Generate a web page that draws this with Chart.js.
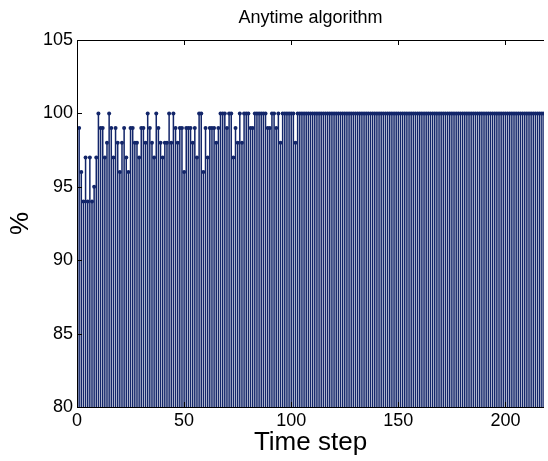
<!DOCTYPE html>
<html lang="en">
<head>
  <meta charset="UTF-8" />
  <title>Anytime algorithm</title>
  <script src="https://cdn.jsdelivr.net/npm/chart.js"></script>
  <style>
    body {
      margin: 0;
      background: white;
    }
    .chart-box {
      width: 548px;
      height: 461px;
    }
  </style>
</head>
<body>
  <div class="chart-box">
    <canvas id="stemChart" width="548" height="461"></canvas>
  </div>

  <script>
    // accuracy (%) per time step
    const steps = [];
    for (let i = 1; i <= 218; i++) steps.push(i);

    const percent = [
      99, 96, 94, 97, 94, 97, 94, 95, 97, 100,
      99, 99, 97, 98, 100, 99, 97, 99, 98, 96,
      98, 99, 97, 96, 99, 99, 98, 98, 97, 99,
      99, 98, 100, 99, 98, 97, 100, 99, 98, 97,
      98, 98, 100, 98, 100, 99, 98, 99, 99, 96,
      99, 99, 99, 98, 99, 97, 100, 100, 96, 99,
      97, 99, 99, 99, 98, 99, 100, 100, 100, 99,
      100, 100, 97, 99, 98, 100, 98, 100, 100, 100,
      99, 99, 100, 100, 100, 100, 100, 100, 99, 99,
      100, 100, 99, 100, 98, 100, 100, 100, 100, 100,
      100, 98, 100, 100, 100, 100, 100, 100, 100, 100,
      100, 100, 100, 100, 100, 100, 100, 100, 100, 100,
      100, 100, 100, 100, 100, 100, 100, 100, 100, 100,
      100, 100, 100, 100, 100, 100, 100, 100, 100, 100,
      100, 100, 100, 100, 100, 100, 100, 100, 100, 100,
      100, 100, 100, 100, 100, 100, 100, 100, 100, 100,
      100, 100, 100, 100, 100, 100, 100, 100, 100, 100,
      100, 100, 100, 100, 100, 100, 100, 100, 100, 100,
      100, 100, 100, 100, 100, 100, 100, 100, 100, 100,
      100, 100, 100, 100, 100, 100, 100, 100, 100, 100,
      100, 100, 100, 100, 100, 100, 100, 100, 100, 100,
      100, 100, 100, 100, 100, 100, 100, 100
    ];

    const xTicks = [0, 50, 100, 150, 200];
    const yTicks = [80, 85, 90, 95, 100, 105];

    const navy = '#13266a';

    // MATLAB style box: ticks pointing inward, top + left + bottom lines
    const boxAxes = {
      id: 'boxAxes',
      afterDraw(chart) {
        const c = chart.ctx;
        const a = chart.chartArea;
        const x = chart.scales.x;
        const y = chart.scales.y;
        c.save();
        c.strokeStyle = '#000';
        c.lineWidth = 1;
        c.beginPath();
        c.moveTo(a.left + 0.5, a.top);
        c.lineTo(a.left + 0.5, a.bottom);
        c.moveTo(a.left, a.bottom + 0.5);
        c.lineTo(a.right, a.bottom + 0.5);
        c.moveTo(a.left, a.top + 0.5);
        c.lineTo(a.right, a.top + 0.5);
        xTicks.forEach(v => {
          const px = Math.round(x.getPixelForValue(v)) + 0.5;
          c.moveTo(px, a.bottom);
          c.lineTo(px, a.bottom - 5);
          c.moveTo(px, a.top);
          c.lineTo(px, a.top + 5);
        });
        yTicks.forEach(v => {
          const py = Math.round(y.getPixelForValue(v)) + 0.5;
          c.moveTo(a.left, py);
          c.lineTo(a.left + 5, py);
        });
        c.stroke();
        c.restore();
      }
    };

    const ctx = document.getElementById('stemChart').getContext('2d');
    new Chart(ctx, {
      type: 'bar',
      data: {
        datasets: [
          {
            type: 'bar',
            data: steps.map((s, i) => ({ x: s, y: [80, percent[i]] })),
            backgroundColor: navy,
            barThickness: 0.85,
            borderWidth: 0
          },
          {
            type: 'line',
            data: steps.map((s, i) => ({ x: s, y: percent[i] })),
            showLine: false,
            pointRadius: 2,
            pointBorderWidth: 0,
            pointBackgroundColor: navy
          }
        ]
      },
      options: {
        responsive: false,
        animation: false,
        devicePixelRatio: 1,
        layout: { padding: 0 },
        plugins: {
          legend: { display: false },
          tooltip: { enabled: false },
          title: {
            display: true,
            text: 'Anytime algorithm',
            fullSize: false,
            color: '#000',
            font: { family: 'Liberation Sans', size: 18, weight: 'normal' },
            padding: { top: 7, bottom: 11.4 }
          }
        },
        scales: {
          x: {
            type: 'linear',
            offset: false,
            min: 0,
            max: 218,
            grid: { display: false, drawTicks: false, offset: false },
            border: { display: false },
            afterFit(scale) { scale.height = 54; },
            afterBuildTicks(scale) { scale.ticks = xTicks.map(v => ({ value: v })); },
            ticks: {
              color: '#000',
              padding: 3,
              maxRotation: 0,
              autoSkip: false,
              font: { family: 'Liberation Sans', size: 18 }
            },
            title: {
              display: true,
              text: 'Time step',
              color: '#000',
              font: { family: 'Liberation Sans', size: 26 },
              padding: { bottom: 3 }
            }
          },
          y: {
            min: 80,
            max: 105,
            grid: { display: false, drawTicks: false },
            border: { display: false },
            afterFit(scale) { scale.width = 77; },
            afterBuildTicks(scale) { scale.ticks = yTicks.map(v => ({ value: v })); },
            ticks: {
              color: '#000',
              padding: 4,
              font: { family: 'Liberation Sans', size: 18 }
            },
            title: {
              display: true,
              text: '%',
              color: '#000',
              font: { family: 'Liberation Sans', size: 26 },
              padding: { top: 5 }
            }
          }
        }
      },
      plugins: [boxAxes]
    });
  </script>
</body>
</html>
